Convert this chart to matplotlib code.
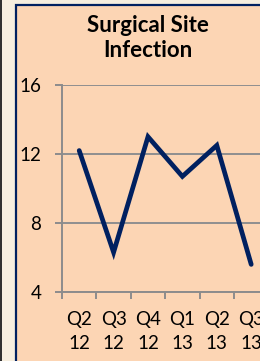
import matplotlib.pyplot as plt
from matplotlib.patches import Rectangle

quarters = ['Q2\n12', 'Q3\n12', 'Q4\n12', 'Q1\n13', 'Q2\n13', 'Q3\n13']
ssi_rate = [12.2, 6.3, 13.0, 10.7, 12.5, 5.6]
y_ticks = [4, 8, 12, 16]

W, H = 260, 361
fig = plt.figure(figsize=(W / 100, H / 100), dpi=100)
fig.patch.set_facecolor('#F6EEDF')

# dark strip, cream margin, peach panel with navy border
fig.patches.append(Rectangle((0, 0), 2 / W, 1, transform=fig.transFigure,
                             facecolor='#303030', edgecolor='none', zorder=-10))
fig.patches.append(Rectangle((16 / W, -0.05), 1.0, 1 - 5 / H + 0.05,
                             transform=fig.transFigure, facecolor='#FCD5B4',
                             edgecolor='#002060', linewidth=1.6, zorder=-10))

# axes: left at x=62, y=16 at 85px, y=4 at 292px, 34.4px per category
left = 62 / W
bottom = 1 - 292 / H
height = (292 - 85) / H
width = 7 * 34.4 / W
ax = fig.add_axes([left, bottom, width, height])
ax.set_facecolor('none')
ax.set_zorder(1)

x = list(range(len(ssi_rate)))
ax.plot(x, ssi_rate, color='#002060', lw=3.4, solid_capstyle='round',
        solid_joinstyle='miter', zorder=3)

ax.set_xlim(-0.5, 6.5)
ax.set_ylim(4, 16)
ax.set_yticks(y_ticks)
ax.set_yticklabels([str(v) for v in y_ticks], fontsize=13.5, fontfamily='Lato')
ax.set_xticks(x)
ax.set_xticklabels(quarters, fontsize=13.5, fontfamily='Lato', linespacing=1.45)
ax.tick_params(axis='x', length=0, pad=14)
ax.set_xticks([i - 0.5 for i in range(8)], minor=True)
ax.tick_params(axis='x', which='minor', length=5, color='#8C8C8C', width=1.4)
ax.tick_params(axis='y', length=5, color='#8C8C8C', width=1.4, pad=10)

ax.grid(axis='y', color='#8F8F8F', lw=1.4)
for s in ['top', 'right']:
    ax.spines[s].set_visible(False)
for s in ['left', 'bottom']:
    ax.spines[s].set_color('#8C8C8C')
    ax.spines[s].set_linewidth(1.4)

fig.text(148 / W, 1 - 38 / H, 'Surgical Site\nInfection', ha='center', va='center',
         fontsize=16, fontweight='bold', fontfamily='Lato', linespacing=1.2)

fig.savefig('out.png', dpi=100)
